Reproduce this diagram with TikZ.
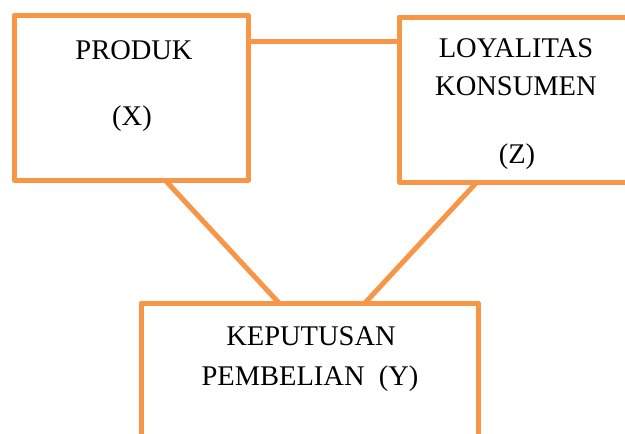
\documentclass[tikz,border=0pt]{standalone}
\usepackage{fontspec}
\setmainfont{Liberation Serif}
\definecolor{boxorange}{HTML}{F79646}
\begin{document}
\begin{tikzpicture}[x=1pt,y=-1pt,
  box/.style={draw=boxorange,line width=5pt,line join=round,rectangle,inner sep=0pt,outer sep=0pt},
  link/.style={draw=boxorange,line width=5pt},
  lbl/.style={anchor=base,inner sep=0pt,font=\fontsize{28.5}{34}\selectfont}]
\useasboundingbox (0,0) rectangle (625,434);
\clip (0,0) rectangle (625,434);
\node[box,minimum width=234pt,minimum height=165pt] (prod) at (131,97.5) {};
\node[box,minimum width=261pt,minimum height=165pt] (loy) at (529.5,99.5) {};
\node[box,minimum width=337pt,minimum height=157pt] (kep) at (309.5,381.5) {};
\draw[link] ([yshift=-26pt]prod.north east) -- ([yshift=-26pt]prod.north east -| loy.west);
\draw[link] ([xshift=151pt]prod.south west) -- ([xshift=138pt]kep.north west);
\draw[link] ([xshift=78pt]loy.south west) -- ([xshift=224pt]kep.north west);
\node[lbl] (tprod) at (134,59) {PRODUK};
\node[lbl] (tx) at (132,125) {(X)};
\node[lbl] (tloy) at (516,57) {LOYALITAS};
\node[lbl] (tkon) at (516,95) {KONSUMEN};
\node[lbl] (tz) at (517,163) {(Z)};
\node[lbl] (tkep) at (311,345) {KEPUTUSAN};
\node[lbl] (tpem) at (310,385) {PEMBELIAN\ \ (Y)};
\end{tikzpicture}
\end{document}
